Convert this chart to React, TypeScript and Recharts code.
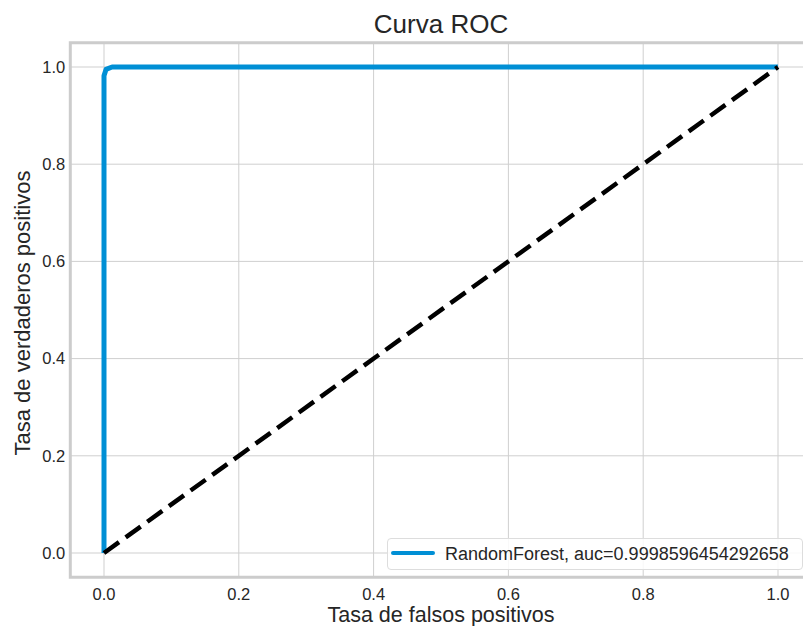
import React from "react";
import {
  LineChart,
  Line,
  XAxis,
  YAxis,
  CartesianGrid,
  ReferenceArea,
  Label,
} from "recharts";

// ROC curve points (false positive rate, true positive rate)
const fprValues = [0, 0, 0.003, 0.012, 1];
const tprValues = [0, 0.982, 0.995, 1, 1];
// Chance diagonal
const chanceFpr = [0, 1];
const chanceTpr = [0, 1];

const xTicks = [0, 0.2, 0.4, 0.6, 0.8, 1.0];
const yTicks = [0, 0.2, 0.4, 0.6, 0.8, 1.0];

const modelName = "RandomForest";
const aucValue = "0.9998596454292658";

const rocData = fprValues.map((x, i) => ({ x, y: tprValues[i] }));
const chanceData = chanceFpr.map((x, i) => ({ x, y: chanceTpr[i] }));

const FONT = "'Liberation Sans', Arial, Helvetica, sans-serif";
const TEXT = "#262626";
const BLUE = "#008fd5";

export default function App() {
  return (
    <div
      style={{
        position: "absolute",
        left: 0,
        top: 0,
        width: 803,
        height: 626,
        overflow: "hidden",
        background: "#ffffff",
        fontFamily: FONT,
      }}
    >
      <div
        style={{
          position: "absolute",
          left: 70,
          width: 742,
          top: 9,
          textAlign: "center",
          fontSize: 26,
          color: TEXT,
          lineHeight: "30px",
          whiteSpace: "nowrap",
        }}
      >
        Curva ROC
      </div>
      <LineChart
        width={812}
        height={626}
        margin={{ top: 42.7, right: 0.3, bottom: 0.7, left: 0.3 }}
        style={{ position: "absolute", left: 0, top: 0 }}
      >
        <CartesianGrid stroke="#cfcfcf" strokeWidth={1} />
        <XAxis
          type="number"
          dataKey="x"
          domain={[-0.05, 1.05]}
          ticks={xTicks}
          allowDataOverflow
          axisLine={false}
          tickLine={false}
          tickSize={0}
          tickMargin={11}
          height={48}
          tickFormatter={(v: number) => v.toFixed(1)}
          tick={{ fill: TEXT, fontSize: 16.5, fontFamily: FONT }}
        >
          <Label
            content={({ viewBox }: any) => (
              <text
                x={viewBox.x + viewBox.width / 2}
                y={621.5}
                textAnchor="middle"
                fontSize={21.5}
                fontFamily={FONT}
                fill={TEXT}
              >
                Tasa de falsos positivos
              </text>
            )}
          />
        </XAxis>
        <YAxis
          type="number"
          dataKey="y"
          domain={[-0.05, 1.05]}
          ticks={yTicks}
          allowDataOverflow
          axisLine={false}
          tickLine={false}
          tickSize={0}
          tickMargin={5}
          width={70}
          tickFormatter={(v: number) => v.toFixed(1)}
          tick={{ fill: TEXT, fontSize: 16.5, fontFamily: FONT }}
        >
          <Label
            content={({ viewBox }: any) => {
              const cx = 30;
              const cy = viewBox.y + viewBox.height / 2 + 3;
              return (
                <text
                  x={cx}
                  y={cy}
                  transform={`rotate(-90, ${cx}, ${cy})`}
                  textAnchor="middle"
                  fontSize={22}
                  fontFamily={FONT}
                  fill={TEXT}
                >
                  Tasa de verdaderos positivos
                </text>
              );
            }}
          />
        </YAxis>
        <Line
          data={rocData}
          dataKey="y"
          type="linear"
          stroke={BLUE}
          strokeWidth={5}
          dot={false}
          strokeLinejoin="round"
          isAnimationActive={false}
        />
        <Line
          data={chanceData}
          dataKey="y"
          type="linear"
          stroke="#000000"
          strokeWidth={4.5}
          strokeDasharray="18.5 8.2"
          dot={false}
          isAnimationActive={false}
        />
        <ReferenceArea
          x1={-0.05}
          x2={1.05}
          y1={-0.05}
          y2={1.05}
          fill="none"
          stroke="#cccccc"
          strokeWidth={3}
          ifOverflow="visible"
        />
      </LineChart>
      <div
        style={{
          position: "absolute",
          left: 387,
          top: 537.5,
          width: 416,
          height: 32,
          boxSizing: "border-box",
          border: "1px solid #dddddd",
          borderRadius: 4,
          background: "rgba(255,255,255,0.85)",
          fontSize: 18,
          color: TEXT,
        }}
      >
        <svg
          width={50}
          height={10}
          style={{ position: "absolute", left: 2, top: 9 }}
        >
          <line
            x1={3}
            y1={5}
            x2={43}
            y2={5}
            stroke={BLUE}
            strokeWidth={4}
            strokeLinecap="round"
          />
        </svg>
        <span
          style={{
            position: "absolute",
            left: 57,
            top: 4,
            lineHeight: "22px",
            whiteSpace: "nowrap",
          }}
        >
          {modelName}, auc={aucValue}
        </span>
      </div>
    </div>
  );
}
